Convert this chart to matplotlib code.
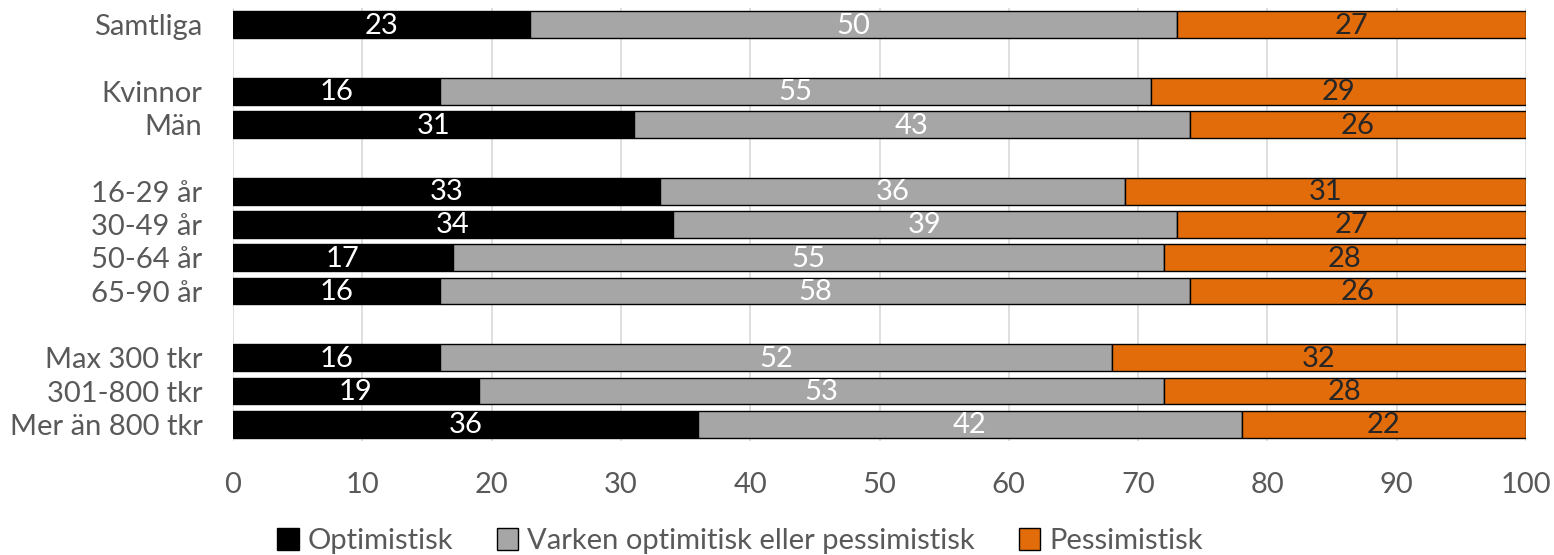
import matplotlib
matplotlib.use('Agg')
import matplotlib.pyplot as plt
import numpy as np

plt.rcParams['font.family'] = ['Lato', 'DejaVu Sans']

# ── Data ──────────────────────────────────────────────────────────────────────
grupper = ['Samtliga', '', 'Kvinnor', 'Män', '',
           '16-29 år', '30-49 år', '50-64 år', '65-90 år', '',
           'Max 300 tkr', '301-800 tkr', 'Mer än 800 tkr']
optimistisk = [23, None, 16, 31, None, 33, 34, 17, 16, None, 16, 19, 36]
varken      = [50, None, 55, 43, None, 36, 39, 55, 58, None, 52, 53, 42]
pessimistisk = [27, None, 29, 26, None, 31, 27, 28, 26, None, 32, 28, 22]

serier = ['Optimistisk', 'Varken optimitisk eller pessimistisk', 'Pessimistisk']
farger = ['#000000', '#a6a6a6', '#e36c0a']
textfarger = ['white', 'white', '#262626']
xticks = [0, 10, 20, 30, 40, 50, 60, 70, 80, 90, 100]

# ── Figur ─────────────────────────────────────────────────────────────────────
fig = plt.figure(figsize=(15.54, 5.55), dpi=100)
ax = fig.add_axes([233 / 1554, 1 - 441 / 555, (1526 - 233) / 1554, 433 / 555])

y = np.arange(len(grupper))
vanster = np.zeros(len(grupper))
for namn, data, farg, tfarg in zip(serier, [optimistisk, varken, pessimistisk],
                                   farger, textfarger):
    vals = np.array([np.nan if v is None else v for v in data], dtype=float)
    bars = ax.barh(y, np.nan_to_num(vals), left=vanster, height=0.8,
                   color=farg, edgecolor='black', linewidth=1, label=namn)
    for i, v in enumerate(vals):
        if np.isnan(v):
            bars[i].set_visible(False)
            continue
        ax.text(vanster[i] + v / 2, y[i] + 0.03, f'{int(v)}', ha='center',
                va='center', color=tfarg, fontsize=21)
    vanster += np.nan_to_num(vals)

ax.set_xlim(0, 100)
ax.set_ylim(len(grupper) - 0.5, -0.5)
ax.set_yticks(y)
ax.set_yticklabels(grupper, fontsize=21, color='#595959')
ax.set_xticks(xticks)
ax.set_xticklabels([str(t) for t in xticks], fontsize=21, color='#595959')
ax.tick_params(length=0)
ax.tick_params(axis='y', pad=22)
ax.tick_params(axis='x', pad=22)
ax.xaxis.grid(True, color='#d9d9d9', linewidth=1.2)
ax.set_axisbelow(True)
for s in ax.spines.values():
    s.set_visible(False)

leg = fig.legend(loc='center', bbox_to_anchor=(0.476, 1 - 541 / 555), ncol=3,
                 frameon=False, fontsize=21, handlelength=0.75, handleheight=0.75,
                 handletextpad=0.3, columnspacing=1.5)
for t in leg.get_texts():
    t.set_color('#595959')

fig.savefig('out.png', dpi=100)
